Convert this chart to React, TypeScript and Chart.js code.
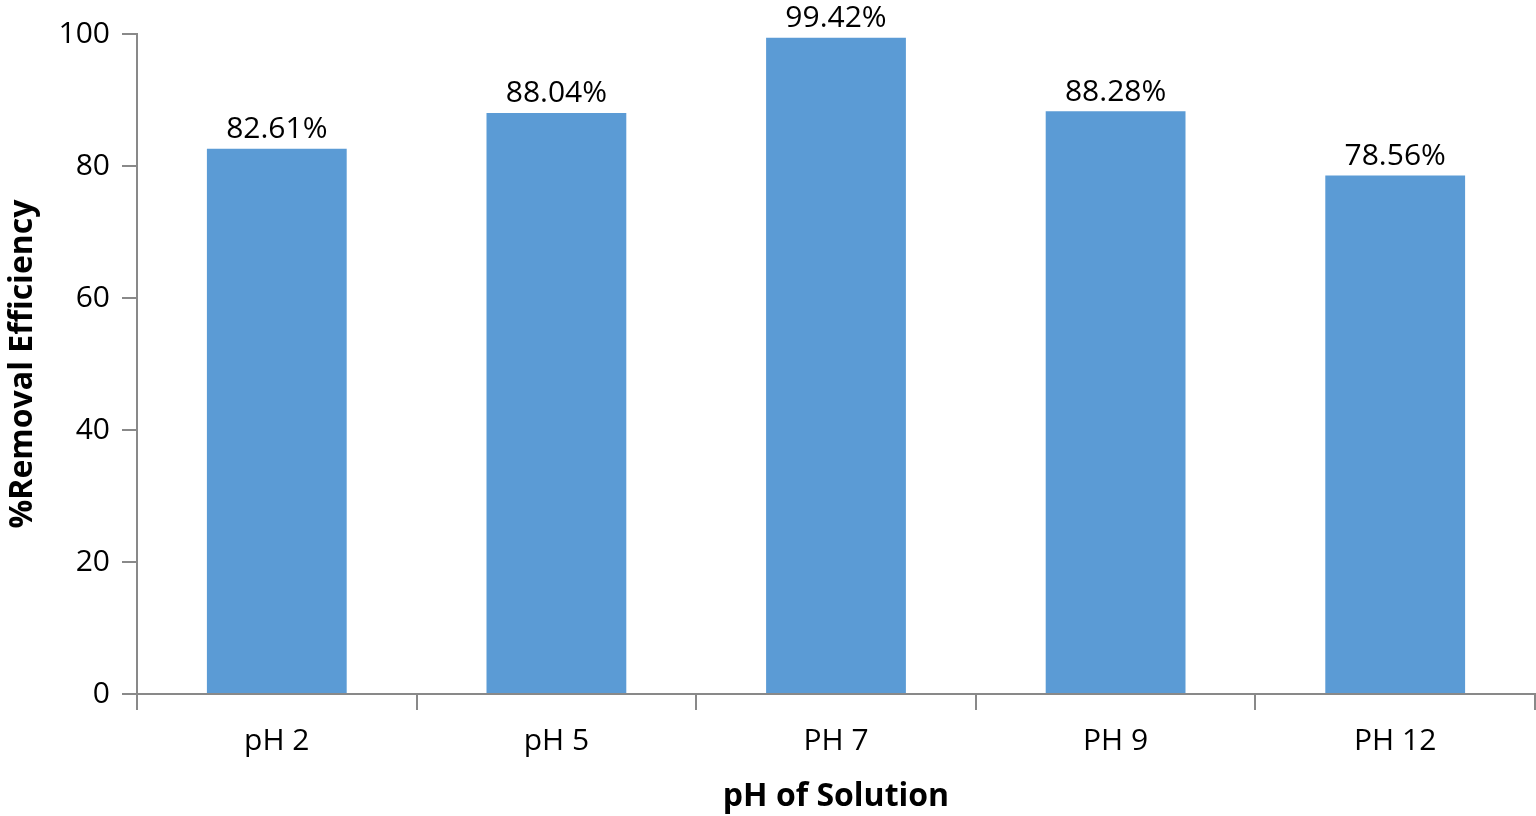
import React, { useEffect, useRef } from "react";
import { Chart, registerables } from "chart.js";

Chart.register(...registerables);

const categories = ["pH 2", "pH 5", "PH 7", "PH 9", "PH 12"];
const values = [82.61, 88.04, 99.42, 88.28, 78.56];
const valueLabels = ["82.61%", "88.04%", "99.42%", "88.28%", "78.56%"];
const yTicks = [0, 20, 40, 60, 80, 100];

const FONT = "'Open Sans', sans-serif";
const AXIS = "#898989";

const dataLabelPlugin = {
  id: "dataLabels",
  afterDatasetsDraw(chart: any) {
    const ctx = chart.ctx;
    const meta = chart.getDatasetMeta(0);
    ctx.save();
    ctx.font = `30px ${FONT}`;
    ctx.fillStyle = "#000";
    ctx.textAlign = "center";
    ctx.textBaseline = "bottom";
    meta.data.forEach((bar: any, i: number) => {
      ctx.fillText(valueLabels[i], bar.x, bar.y - 4);
    });
    ctx.restore();
  },
};

export default function App() {
  const ref = useRef<HTMLCanvasElement | null>(null);
  useEffect(() => {
    document.body.style.margin = "0";
    if (!ref.current) return;
    const chart = new Chart(ref.current, {
      type: "bar",
      data: {
        labels: categories,
        datasets: [
          {
            data: values,
            backgroundColor: "#5B9BD5",
            barPercentage: 0.5,
            categoryPercentage: 1,
          },
        ],
      },
      options: {
        animation: false,
        responsive: false,
        maintainAspectRatio: false,
        layout: { padding: { top: 34, right: 1, left: 0, bottom: 0 } },
        plugins: { legend: { display: false }, tooltip: { enabled: false } },
        scales: {
          x: {
            offset: true,
            afterFit: (s: any) => {
              s.height = 122;
            },
            grid: {
              offset: true,
              drawOnChartArea: false,
              drawTicks: true,
              tickLength: 16,
              color: AXIS,
              lineWidth: 2,
            },
            border: { color: AXIS, width: 2 },
            ticks: { color: "#000", font: { family: FONT, size: 30 }, padding: 13 },
            title: {
              display: true,
              text: "pH of Solution",
              color: "#000",
              font: { family: FONT, size: 32, weight: "bold" },
              padding: { top: 0, bottom: 0 },
            },
          },
          y: {
            min: 0,
            max: 100,
            afterFit: (s: any) => {
              s.width = 137;
            },
            afterBuildTicks: (s: any) => {
              s.ticks = yTicks.map((v) => ({ value: v }));
            },
            grid: {
              drawOnChartArea: false,
              drawTicks: true,
              tickLength: 15,
              color: AXIS,
              lineWidth: 2,
            },
            border: { color: AXIS, width: 2 },
            ticks: { color: "#000", font: { family: FONT, size: 30 }, padding: 12 },
            title: {
              display: true,
              text: "%Removal Efficiency",
              color: "#000",
              font: { family: FONT, size: 32, weight: "bold" },
              padding: { top: 4, bottom: 0 },
            },
          },
        },
      },
      plugins: [dataLabelPlugin],
    });
    return () => chart.destroy();
  }, []);
  return (
    <div style={{ position: "fixed", left: 0, top: 0, width: 1536, height: 816, background: "#fff" }}>
      <canvas ref={ref} width={1536} height={816} style={{ width: 1536, height: 816 }} />
    </div>
  );
}
